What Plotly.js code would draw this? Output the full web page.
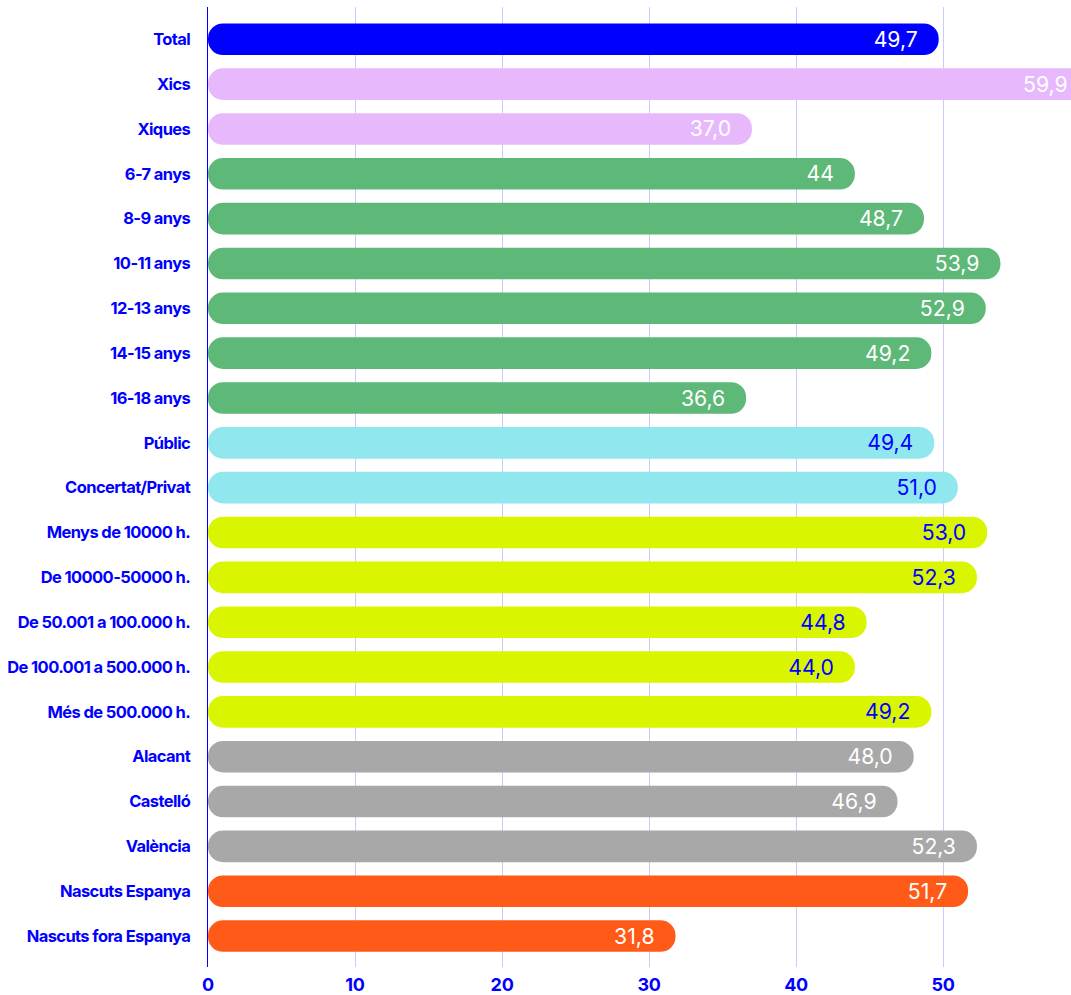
<!DOCTYPE html>
<html><head><meta charset="utf-8">
<script src="https://cdn.plot.ly/plotly-3.0.1.min.js"></script>
<style>
html,body{margin:0;padding:0;background:#fff;overflow:hidden}
#chart{width:1071px;height:995px}
.ytick text{letter-spacing:-0.6px}
.xtick text{letter-spacing:-0.3px}
g.bartext text{letter-spacing:-1.5px}
</style></head><body><div id="chart"></div>
<script>
const categories = ["Total","Xics","Xiques","6-7 anys","8-9 anys","10-11 anys","12-13 anys","14-15 anys","16-18 anys","Públic","Concertat/Privat","Menys de 10000 h.","De 10000-50000 h.","De 50.001 a 100.000 h.","De 100.001 a 500.000 h.","Més de 500.000 h.","Alacant","Castelló","València","Nascuts Espanya","Nascuts fora Espanya"];
const values = [49.7,59.9,37.0,44,48.7,53.9,52.9,49.2,36.6,49.4,51.0,53.0,52.3,44.8,44.0,49.2,48.0,46.9,52.3,51.7,31.8];
const valueLabels = ["49,7","59,9","37,0","44","48,7","53,9","52,9","49,2","36,6","49,4","51,0","53,0","52,3","44,8","44,0","49,2","48,0","46,9","52,3","51,7","31,8"];
const groups = ["total","sexe","sexe","edat","edat","edat","edat","edat","edat","centre","centre","poblacio","poblacio","poblacio","poblacio","poblacio","provincia","provincia","provincia","naixement","naixement"];
const xTicks = [0,10,20,30,40,50];

const BLUE = "#0000FF";
const palette = {total:"#0000FF", sexe:"#E7B9FC", edat:"#5EB877", centre:"#91E7EE", poblacio:"#D9F600", provincia:"#A8A8A8", naixement:"#FF5A17"};
const labelColor = {total:"#FFFFFF", sexe:"#FFFFFF", edat:"#FFFFFF", centre:BLUE, poblacio:BLUE, provincia:"#FFFFFF", naixement:"#FFFFFF"};
const barColors = groups.map(g => palette[g]);
const txtColors = groups.map(g => labelColor[g]);
const PAD = "\u00a0";

const main = {
  type: "bar", orientation: "h",
  y: categories,
  x: values,
  base: values.map(() => 0),
  marker: {color: barColors, cornerradius: 16, line: {width: 0}},
  text: valueLabels.map(t => t + PAD),
  textposition: "inside", insidetextanchor: "end", textangle: 0,
  constraintext: "none",
  textfont: {family: "Inter, sans-serif", size: 24, color: txtColors},
  hoverinfo: "skip"
};

const layout = {
  width: 1071, height: 995,
  margin: {l: 208, r: 0, t: 7, b: 28, pad: 0},
  paper_bgcolor: "#fff", plot_bgcolor: "#fff",
  barmode: "overlay", bargap: 0.295,
  showlegend: false,
  xaxis: {
    range: [0, 58.7], tickvals: xTicks, ticktext: xTicks.map(String),
    showgrid: true, gridcolor: "#CACAFF", gridwidth: 1,
    zeroline: false, showline: false, ticks: "",
    ticklabelstandoff: 5,
    tickfont: {family: "Inter, sans-serif", size: 18, weight: 700, color: BLUE}
  },
  yaxis: {
    type: "category", range: [20.69, -0.72],
    showgrid: false, zeroline: false,
    showline: true, linecolor: BLUE, linewidth: 1.5,
    ticks: "", ticklabelstandoff: 13,
    tickfont: {family: "Inter, sans-serif", size: 16.5, weight: 700, color: BLUE}
  }
};
Plotly.newPlot("chart", [main], layout, {displayModeBar: false, staticPlot: true});
</script></body></html>
